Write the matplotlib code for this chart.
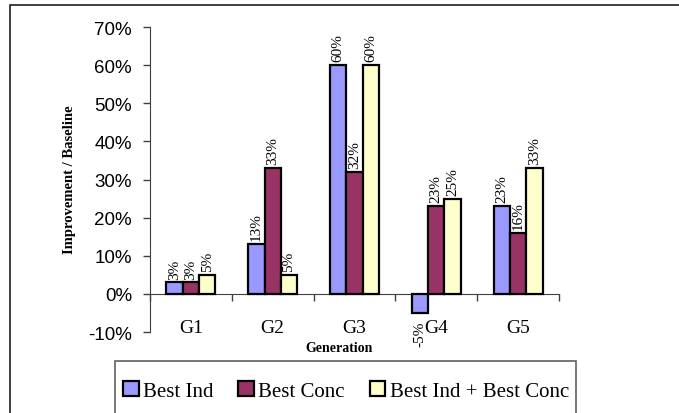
import numpy as np
import matplotlib.pyplot as plt
from matplotlib.patches import Rectangle
from matplotlib.ticker import FixedLocator, PercentFormatter

plt.rcParams["axes.unicode_minus"] = False

# Chart data (percent improvement over baseline)
generations = ["G1", "G2", "G3", "G4", "G5"]
best_ind = [3, 13, 60, -5, 23]
best_conc = [3, 33, 32, 23, 16]
best_both = [5, 5, 60, 25, 33]

series = [
    ("Best Ind", best_ind, "#9999FF"),
    ("Best Conc", best_conc, "#993366"),
    ("Best Ind + Best Conc", best_both, "#FFFFCC"),
]

serif = ["Liberation Serif", "DejaVu Serif"]

fig = plt.figure(figsize=(6.79, 4.14), dpi=100)
W, H = 679, 414
ax = fig.add_axes([150 / W, 1 - 333 / H, (559 - 150) / W, (333 - 28) / H])

x = np.arange(1, len(generations) + 1)
width = 0.2
handles = []
for i, (name, vals, color) in enumerate(series):
    pos = x + (i - 1) * width
    bars = ax.bar(pos, vals, width, color=color, edgecolor="black", linewidth=1.6,
                  label=name, zorder=3)
    handles.append(bars)
    for xp, v in zip(pos, vals):
        if v >= 0:
            ax.text(xp, v + 1.0, f"{v}%", rotation=90, ha="center", va="bottom",
                    fontsize=11, family=serif)
        else:
            ax.text(xp, v - 2.0, f"{v}%", rotation=90, ha="center", va="top",
                    fontsize=11, family=serif)

ax.set_xlim(0.5, 5.5)
ax.set_ylim(-10, 70)
ax.set_yticks(range(-10, 71, 10))
ax.yaxis.set_major_formatter(PercentFormatter(decimals=0))
ax.tick_params(axis="y", direction="out", length=5, width=1, pad=8, color="#404040",
               labelsize=13.5, labelfontfamily="Liberation Sans")

# category boundaries get tick marks, centers get labels
ax.xaxis.set_major_locator(FixedLocator(np.arange(0.5, 5.6, 1.0)))
ax.xaxis.set_major_formatter(plt.NullFormatter())
ax.set_xticks(x, generations, minor=True)
ax.tick_params(axis="x", which="major", direction="out", length=5, width=1, color="#404040")
ax.tick_params(axis="x", which="minor", length=0, pad=18, labelsize=14,
               labelfontfamily="Liberation Serif")

for s in ["top", "right"]:
    ax.spines[s].set_visible(False)
ax.spines["bottom"].set_position(("data", 0))
ax.spines["left"].set_color("#404040")
ax.spines["bottom"].set_color("#404040")
ax.set_facecolor("none")

fig.text(70 / W, 1 - 180 / H, "Improvement / Baseline", rotation=90, ha="center",
         va="center", fontsize=10.5, fontweight="bold", family=serif)
fig.text(339 / W, 1 - 349 / H, "Generation", ha="center", va="center",
         fontsize=10, fontweight="bold", family=serif)

# outer chart frame and legend box
fig.patches.append(Rectangle((10 / W, -0.1), 1.0, 1 - 6 / H + 0.1, transform=fig.transFigure,
                             fill=False, edgecolor="#202020", linewidth=1.2))
fig.patches.append(Rectangle((115 / W, -0.1), (576 - 115) / W, 1 - 362 / H + 0.1,
                             transform=fig.transFigure, fill=False, edgecolor="#606060",
                             linewidth=1.2))

leg = fig.legend(handles=handles, loc="center", bbox_to_anchor=(346 / W, 1 - 392 / H),
                 ncol=3, frameon=False, prop={"family": serif, "size": 15},
                 handlelength=0.75, handleheight=0.75, handletextpad=0.2,
                 columnspacing=1.2)

fig.savefig("out.png", dpi=100)
